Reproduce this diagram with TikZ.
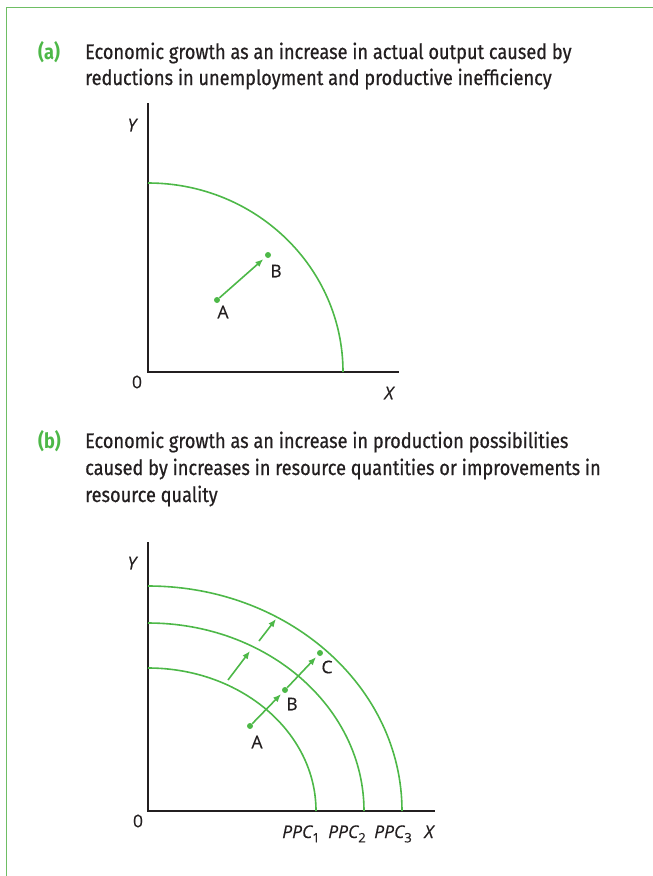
\documentclass[tikz,border=0pt]{standalone}
\usepackage{fontspec}
\setmainfont{Open Sans}[FakeBold=0.4]
\newfontfamily\hdrfont[FakeStretch=0.865,FakeBold=0.6]{Fira Sans}
\newfontfamily\tagfont[FakeStretch=0.865]{Fira Sans}
\usetikzlibrary{arrows.meta}
\definecolor{grn}{RGB}{77,184,72}
\definecolor{framec}{RGB}{110,190,100}
\definecolor{ink}{RGB}{35,31,32}
\newcommand{\ppcsub}[1]{\raisebox{-0.25em}{\fontsize{13}{13}\selectfont\upshape #1}}
\begin{document}
\begin{tikzpicture}[x=1pt,y=-1pt,
 axis/.style={ink,line width=1.9pt},
 ppc/.style={grn,line width=1.6pt},
 arr/.style={grn,line width=1.6pt,-{Latex[length=8pt,width=6.5pt]}},
 dot/.style={circle,fill=grn,inner sep=0pt,minimum size=6pt},
 lbl/.style={ink,font=\fontsize{17.5}{17.5}\selectfont,inner sep=0pt},
 head/.style={ink,anchor=base west,inner sep=0pt,font=\hdrfont\fontsize{21}{21}\selectfont},
 tag/.style={grn,anchor=base west,inner sep=0pt,font=\tagfont\fontsize{21}{21}\selectfont\bfseries}]
\useasboundingbox (0,0) rectangle (653,876);
\draw[framec,line width=1.4pt] (6.5,876) -- (6.5,7.5) -- (653,7.5);
% headings
\node[tag] (ta) at (38,59) {(a)};
\node[head] (ha1) at (85,59) {Economic growth as an increase in actual output caused by};
\node[head] (ha2) at (85,85) {reductions in unemployment and productive inefficiency};
\node[tag] (tb) at (38,448) {(b)};
\node[head] (hb1) at (85,448) {Economic growth as an increase in production possibilities};
\node[head] (hb2) at (85,475) {caused by increases in resource quantities or improvements in};
\node[head] (hb3) at (85,502) {resource quality};
% panel a
\coordinate (oa) at (148,372);
\coordinate (ya) at (148,103);
\coordinate (xa) at (399,372);
\draw[axis] (ya) -- (oa) -- (xa);
\draw[ppc] (148,183) arc[start angle=-90,end angle=0,x radius=195,y radius=189];
\node[dot] (aA) at (217,300) {};
\node[dot] (aB) at (268,255) {};
\draw[arr,shorten >=3pt] (aA) -- (aB);
\node[lbl] (laA) at (223,312) {A};
\node[lbl] (laB) at (276,271) {B};
\node[lbl] (laY) at (132,125) {\itshape Y};
\node[lbl] (laO) at (137,382) {0};
\node[lbl] (laX) at (389,393) {\itshape X};
% panel b
\coordinate (ob) at (148,811);
\coordinate (yb) at (148,542);
\coordinate (xb) at (435,811);
\draw[axis] (yb) -- (ob) -- (xb);
\draw[ppc] (148,668) arc[start angle=-90,end angle=0,x radius=168,y radius=143];
\draw[ppc] (148,623) arc[start angle=-90,end angle=0,x radius=216,y radius=188];
\draw[ppc] (148,586) arc[start angle=-90,end angle=0,x radius=254,y radius=225];
\coordinate (s1) at (228,680);
\coordinate (e1) at (250,651);
\coordinate (s2) at (259,641);
\coordinate (e2) at (276,619);
\draw[arr] (s1) -- (e1);
\draw[arr] (s2) -- (e2);
\node[dot] (bA) at (250,726) {};
\node[dot] (bB) at (285,690) {};
\node[dot] (bC) at (320,653) {};
\draw[arr,shorten >=2.5pt] (bA) -- (bB);
\draw[arr,shorten >=2.5pt] (bB) -- (bC);
\node[lbl] (lbA) at (257,742) {A};
\node[lbl] (lbB) at (292,704) {B};
\node[lbl] (lbC) at (327,667) {C};
\node[lbl] (lbY) at (132,563) {\itshape Y};
\node[lbl] (lbO) at (138,821) {0};
\node[lbl,anchor=base] (lbX) at (429,838) {\itshape X};
\node[lbl,anchor=base] (lp1) at (301,838) {\itshape PPC\ppcsub{1}};
\node[lbl,anchor=base] (lp2) at (347,838) {\itshape PPC\ppcsub{2}};
\node[lbl,anchor=base] (lp3) at (393,838) {\itshape PPC\ppcsub{3}};
\end{tikzpicture}
\end{document}
